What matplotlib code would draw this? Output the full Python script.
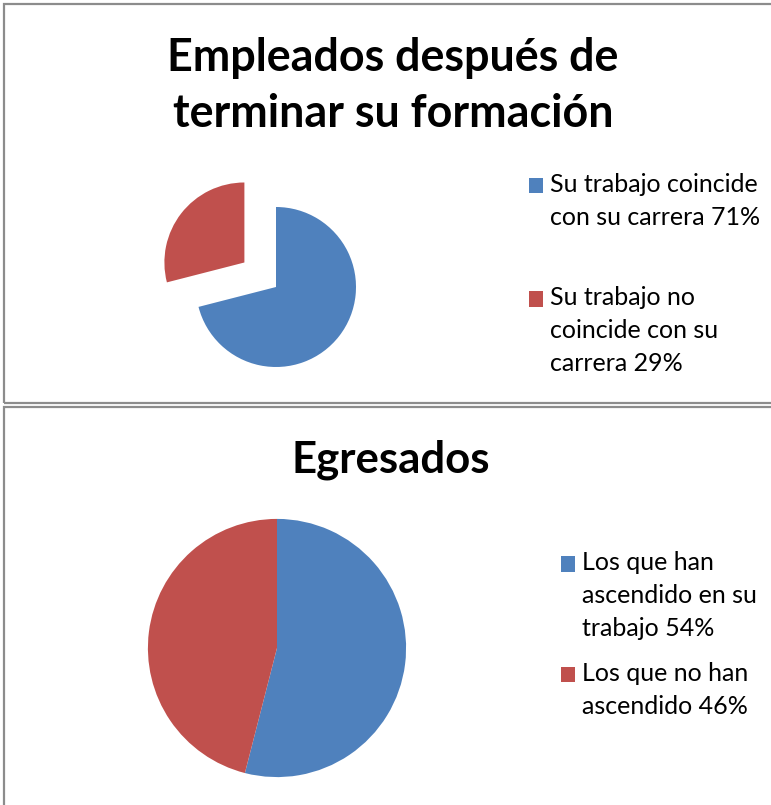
import matplotlib.pyplot as plt
from matplotlib.patches import Rectangle

plt.rcParams['font.family'] = ['Lato', 'DejaVu Sans']

# data
top_title = 'Empleados después de\nterminar su formación'
top_labels = ['Su trabajo coincide\ncon su carrera 71%',
              'Su trabajo no\ncoincide con su\ncarrera 29%']
top_values = [71, 29]
top_explode = [0, 0.5]

bottom_title = 'Egresados'
bottom_labels = ['Los que han\nascendido en su\ntrabajo 54%',
                 'Los que no han\nascendido 46%']
bottom_values = [54, 46]

colors = ['#4F81BD', '#C0504D']

W, H = 771, 805
fig = plt.figure(figsize=(W / 100, H / 100), dpi=100)

LEG_FS = 18
LEG_LS = 1.52
LINE_STEP_PT = 23.0  # distance between text lines in points


def px_axes(cx, cy, half):
    # square axes centered at pixel (cx, cy), measured from top-left
    return fig.add_axes([(cx - half) / W, 1 - (cy + half) / H, 2 * half / W, 2 * half / H])


def make_legend(wedges, labels, x, y, spacing):
    leg = fig.legend(wedges, labels, loc='upper left', bbox_to_anchor=(x / W, 1 - y / H),
                     frameon=False, fontsize=LEG_FS, handlelength=0.56, handleheight=0.56,
                     handletextpad=0.3, labelspacing=spacing, borderpad=0, borderaxespad=0)
    for t, h, lab in zip(leg.get_texts(), leg.legend_handles, labels):
        t.set_linespacing(LEG_LS)
        # put the square next to the first line, like Excel does
        n = lab.count('\n')
        h.set_y(h.get_y() + n / 2 * LINE_STEP_PT)
    return leg


# panel borders
fig.patches.append(Rectangle((4 / W, 1 - 403 / H), 1, (403 - 4) / H, transform=fig.transFigure,
                             fill=False, edgecolor='#8c8c8c', lw=1.6))
fig.patches.append(Rectangle((4 / W, -0.1), 1, 0.1 + (805 - 407) / H, transform=fig.transFigure,
                             fill=False, edgecolor='#8c8c8c', lw=1.6))

# top chart
ax1 = px_axes(276, 287, 120)
w1, _ = ax1.pie(top_values, colors=colors, startangle=90, counterclock=False,
                explode=top_explode, radius=1)
ax1.set_xlim(-1.5, 1.5)
ax1.set_ylim(-1.5, 1.5)
ax1.axis('off')
fig.text(393 / W, 1 - 86 / H, top_title, ha='center', va='center', fontsize=32.3,
         fontweight='bold', linespacing=1.42)
make_legend(w1, top_labels, 529, 173, 2.28)

# bottom chart
ax2 = px_axes(277, 648, 142)
w2, _ = ax2.pie(bottom_values, colors=colors, startangle=90, counterclock=False, radius=1)
ax2.set_xlim(-1.1, 1.1)
ax2.set_ylim(-1.1, 1.1)
ax2.axis('off')
fig.text(391 / W, 1 - 460 / H, bottom_title, ha='center', va='center', fontsize=31.5,
         fontweight='bold')
make_legend(w2, bottom_labels, 561, 551, 0.88)

fig.savefig('out.png', dpi=100)
